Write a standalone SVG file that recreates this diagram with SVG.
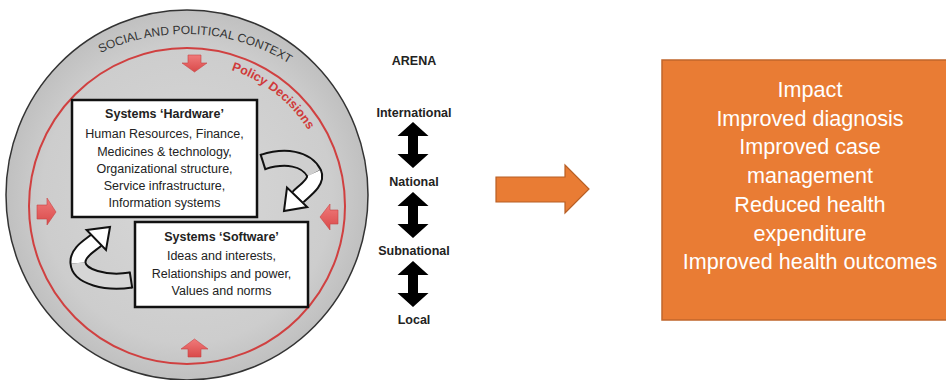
<svg xmlns="http://www.w3.org/2000/svg" xmlns:xlink="http://www.w3.org/1999/xlink" width="946" height="380" viewBox="0 0 946 380">
<style>
.lbl{font-family:"Liberation Sans",Arial,sans-serif;font-size:12.5px;fill:#222;text-anchor:middle}
.ttl{font-weight:bold}
.arena{font-family:"Liberation Sans",Arial,sans-serif;font-size:12.5px;font-weight:bold;fill:#222;text-anchor:middle}
.imp{font-family:"Liberation Sans",Arial,sans-serif;font-size:21.6px;fill:#fff;text-anchor:middle}
.box{fill:#fff;stroke:#111;stroke-width:2.5}
.redarr{fill:url(#rg);stroke:#c84444;stroke-width:0.6}
.bandout{fill:none;stroke:#111;stroke-width:17}
.head{stroke:#111;stroke-width:2;stroke-linejoin:miter}
</style>
<defs>
<radialGradient id="bg" cx="0.5" cy="0.5" r="0.5">
<stop offset="0" stop-color="#d8d8d8"/>
<stop offset="0.8" stop-color="#cdcdcd"/>
<stop offset="1" stop-color="#c0c0c0"/>
</radialGradient>
<linearGradient id="rg" x1="0" y1="0" x2="0" y2="1">
<stop offset="0" stop-color="#f07a7a"/>
<stop offset="1" stop-color="#d94a4a"/>
</linearGradient>
<path id="dbl" d="M0,0 L15.5,14 L5,14 L5,32 L15.5,32 L0,46 L-15.5,32 L-5,32 L-5,14 L-15.5,14 Z" fill="#000"/>
<path id="socarc" d="M57.7,80.3 A198,198 0 0 1 312.3,80.3" fill="none"/>
<path id="polarc" d="M187,63 A143,143 0 0 1 327.8,181.2" fill="none"/>
</defs>

<g id="context">
<ellipse cx="187" cy="195" rx="181" ry="185" fill="url(#bg)" stroke="#333" stroke-width="1.5"/>
<text font-family="'Liberation Sans',Arial,sans-serif" font-size="12" fill="#333" text-anchor="middle"><textPath xlink:href="#socarc" href="#socarc" startOffset="54%">SOCIAL AND POLITICAL CONTEXT</textPath></text>
</g>

<g id="policy">
<circle cx="187" cy="206" r="158" fill="none" stroke="#d04040" stroke-width="2"/>
<text font-family="'Liberation Sans',Arial,sans-serif" font-size="12.5" font-weight="bold" fill="#d03a3a" text-anchor="middle"><textPath xlink:href="#polarc" href="#polarc" startOffset="47.5%">Policy Decisions</textPath></text>
</g>

<g id="pressure-arrows">
<path class="redarr" d="M188,55 L201,55 L201,63 L207,63 L194.5,72 L182,63 L188,63 Z"/>
<path class="redarr" d="M188,357 L201,357 L201,349 L208,349 L194.5,339 L181,349 L188,349 Z"/>
<path class="redarr" d="M37,205 L47,205 L47,198 L56,212 L47,225 L47,219 L37,219 Z"/>
<path class="redarr" d="M338,210 L330,210 L330,204 L320,217 L330,230 L330,224 L338,224 Z"/>
</g>

<g id="hardware">
<rect class="box" x="72" y="100" width="185" height="117"/>
<text class="lbl ttl" x="164.5" y="118">Systems ‘Hardware’</text>
<text class="lbl" x="164.5" y="138">Human Resources, Finance,</text>
<text class="lbl" x="164.5" y="155.5">Medicines &amp; technology,</text>
<text class="lbl" x="164.5" y="173">Organizational structure,</text>
<text class="lbl" x="164.5" y="190">Service infrastructure,</text>
<text class="lbl" x="164.5" y="207">Information systems</text>
</g>

<g id="software">
<rect class="box" x="135" y="222" width="173" height="85"/>
<text class="lbl ttl" x="221.5" y="241">Systems ‘Software’</text>
<text class="lbl" x="221.5" y="260">Ideas and interests,</text>
<text class="lbl" x="221.5" y="277.5">Relationships and power,</text>
<text class="lbl" x="221.5" y="295">Values and norms</text>
</g>

<g id="connectors">
<g id="cycle-hw-to-sw">
<path class="bandout" d="M263,162 C285,155 306,158 314,173 C318,182 303.5,191.2 298,197"/>
<path d="M263,162 C285,155 306,158 314,173" fill="none" stroke="#cfcfcf" stroke-width="13"/>
<path d="M314,173 C318,182 303.5,191.2 298,197" fill="none" stroke="#fff" stroke-width="13"/>
<line x1="260.4" y1="153.9" x2="265.6" y2="170.1" stroke="#111" stroke-width="2"/>
<path class="head" fill="#fff" d="M284,211 L287,187.6 L307.2,207 Z"/>
</g>
<g id="cycle-sw-to-hw">
<path class="bandout" d="M131,280 C106,284 79,277 78,263 C77,252 90.2,245.5 96.3,240.1"/>
<path d="M131,280 C106,284 79,277 78,263" fill="none" stroke="#d6d6d6" stroke-width="13"/>
<path d="M78,263 C77,252 90.2,245.5 96.3,240.1" fill="none" stroke="#fff" stroke-width="13"/>
<line x1="129.7" y1="271.6" x2="132.3" y2="288.4" stroke="#111" stroke-width="2"/>
<path class="head" fill="#fff" d="M110,227 L106,250 L86.6,230 Z"/>
</g>
<g id="arena-arrows">
<use href="#dbl" xlink:href="#dbl" x="413" y="122"/>
<use href="#dbl" xlink:href="#dbl" x="413" y="192"/>
<use href="#dbl" xlink:href="#dbl" x="413" y="261"/>
</g>
<path id="to-impact" d="M496,177 L565,177 L565,165 L589,189 L565,213 L565,202 L496,202 Z" fill="#e97c34" stroke="#b85f25" stroke-width="1.2"/>
</g>

<g id="arena">
<text class="arena" x="414" y="65">ARENA</text>
<text class="arena" x="414" y="117">International</text>
<text class="arena" x="414" y="186">National</text>
<text class="arena" x="414" y="255">Subnational</text>
<text class="arena" x="414" y="324">Local</text>
</g>

<g id="impact">
<rect x="662" y="60" width="290" height="260" fill="#e97c34" stroke="#c0662b" stroke-width="1.5"/>
<text class="imp" x="810" y="97">Impact</text>
<text class="imp" x="810" y="125.7">Improved diagnosis</text>
<text class="imp" x="810" y="154.4">Improved case</text>
<text class="imp" x="810" y="183.1">management</text>
<text class="imp" x="810" y="211.8">Reduced health</text>
<text class="imp" x="810" y="240.5">expenditure</text>
<text class="imp" x="810" y="269.2">Improved health outcomes</text>
</g>
</svg>
